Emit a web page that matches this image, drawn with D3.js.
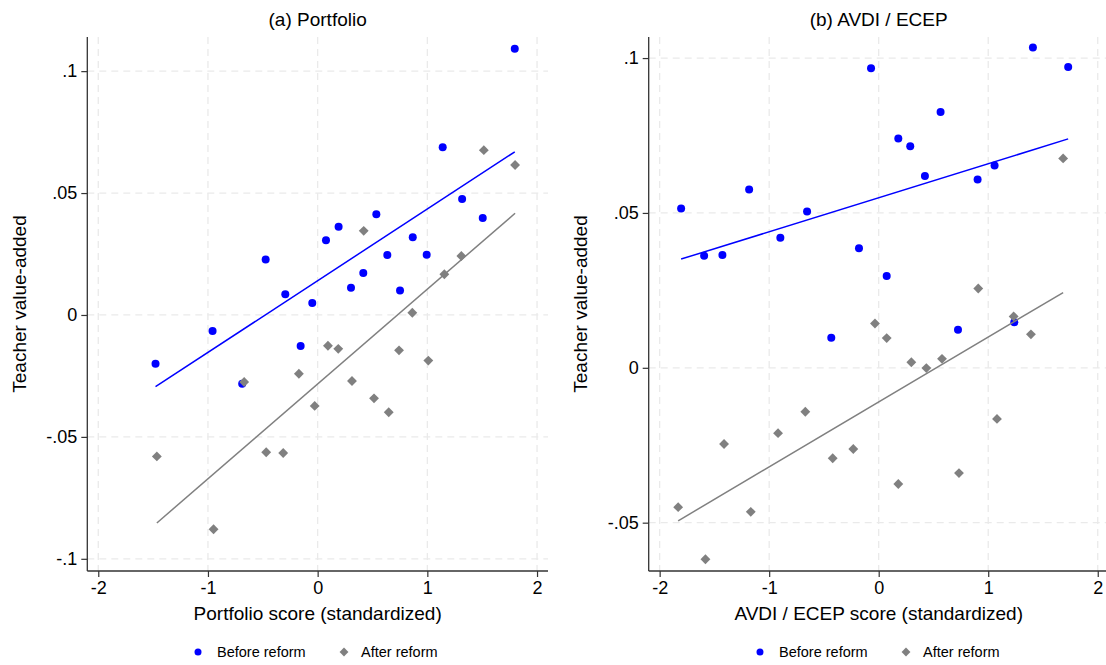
<!DOCTYPE html>
<html><head><meta charset="utf-8">
<script src="https://cdn.jsdelivr.net/npm/d3@7"></script>
<style>
html,body{margin:0;padding:0;background:#fff;}
text{font-family:"Liberation Sans",Arial,Helvetica,sans-serif;fill:#000;}
</style></head>
<body><svg id="c" width="1106" height="665"></svg>
<script>
// ---- data ----
const xTicks = [-2, -1, 0, 1, 2];
const xTickLabels = ["-2", "-1", "0", "1", "2"];
const yTicksA = [0.1, 0.05, 0, -0.05, -0.1];
const yTickLabelsA = [".1", ".05", "0", "-.05", "-.1"];
const yTicksB = [0.1, 0.05, 0, -0.05];
const yTickLabelsB = [".1", ".05", "0", "-.05"];
const seriesNames = ["Before reform", "After reform"];

const portfolioBeforeX = [-1.478,-0.958,-0.688,-0.474,-0.295,-0.155,-0.049,0.076,0.191,0.304,0.416,0.535,0.635,0.751,0.867,0.994,1.140,1.317,1.505,1.797];
const portfolioBeforeY = [-0.0200,-0.0066,-0.0282,0.0228,0.0085,-0.0127,0.0049,0.0306,0.0362,0.0112,0.0172,0.0413,0.0246,0.0100,0.0319,0.0247,0.0688,0.0476,0.0398,0.1092];
const portfolioAfterX = [-1.466,-0.949,-0.670,-0.469,-0.314,-0.171,-0.027,0.094,0.188,0.313,0.420,0.514,0.648,0.742,0.863,1.009,1.155,1.310,1.515,1.800];
const portfolioAfterY = [-0.0580,-0.0879,-0.0275,-0.0563,-0.0566,-0.0241,-0.0373,-0.0126,-0.0139,-0.0271,0.0345,-0.0342,-0.0399,-0.0145,0.0009,-0.0187,0.0167,0.0242,0.0676,0.0615];
const portfolioFitBeforeX = [-1.478, 1.797];
const portfolioFitBeforeY = [-0.0294, 0.0669];
const portfolioFitAfterX = [-1.466, 1.800];
const portfolioFitAfterY = [-0.0853, 0.0417];

const avdiBeforeX = [-1.804,-1.594,-1.427,-1.183,-0.898,-0.654,-0.433,-0.180,-0.070,0.073,0.179,0.288,0.422,0.565,0.724,0.903,1.058,1.238,1.408,1.730];
const avdiBeforeY = [0.0514,0.0362,0.0364,0.0576,0.0420,0.0505,0.0097,0.0386,0.0967,0.0296,0.0740,0.0715,0.0619,0.0826,0.0123,0.0608,0.0653,0.0147,0.1034,0.0971];
const avdiAfterX = [-1.831,-1.582,-1.412,-1.168,-0.919,-0.670,-0.420,-0.232,-0.034,0.073,0.179,0.298,0.435,0.578,0.733,0.909,1.080,1.232,1.390,1.684];
const avdiAfterY = [-0.0450,-0.0618,-0.0246,-0.0465,-0.0211,-0.0142,-0.0292,-0.0262,0.0143,0.0096,-0.0375,0.0018,-0.0001,0.0029,-0.0340,0.0256,-0.0165,0.0166,0.0108,0.0676];
const avdiFitBeforeX = [-1.804, 1.730];
const avdiFitBeforeY = [0.0351, 0.0739];
const avdiFitAfterX = [-1.831, 1.684];
const avdiFitAfterY = [-0.0494, 0.0243];

// ---- drawing ----
const svg = d3.select("#c");
const blue = "#0000ff", gray = "#808080";
const zip = (xs, ys) => xs.map((x, i) => ({x, y: ys[i]}));

function panel(cfg) {
  const x = d3.scaleLinear().domain([-2.1, 2.1]).range([cfg.left, cfg.right]);
  const y = d3.scaleLinear().domain(cfg.yDomain).range([cfg.bottom, cfg.top]);
  const g = svg.append("g");

  // grid
  g.append("g").selectAll("line").data(xTicks).join("line")
    .attr("x1", d => x(d)).attr("x2", d => x(d))
    .attr("y1", cfg.top).attr("y2", cfg.bottom)
    .attr("stroke", "#eaeaea").attr("stroke-width", 1.3).attr("stroke-dasharray", "7,5");
  g.append("g").selectAll("line").data(cfg.yTicks).join("line")
    .attr("x1", cfg.left).attr("x2", cfg.right)
    .attr("y1", d => y(d)).attr("y2", d => y(d))
    .attr("stroke", "#eaeaea").attr("stroke-width", 1.3).attr("stroke-dasharray", "7,5");

  // axes
  const xAxis = d3.axisBottom(x).tickValues(xTicks).tickSize(6).tickPadding(4)
    .tickFormat((d, i) => xTickLabels[i]);
  const gx = g.append("g").attr("transform", `translate(0,${cfg.bottom})`).call(xAxis);
  const yAxis = d3.axisLeft(y).tickValues(cfg.yTicks).tickSize(6).tickPadding(4)
    .tickFormat((d, i) => cfg.yLabels[i]);
  const gy = g.append("g").attr("transform", `translate(${cfg.left},0)`).call(yAxis);
  [gx, gy].forEach(a => {
    a.select(".domain").remove();
    a.selectAll(".tick line").attr("stroke", "#333").attr("stroke-width", 1.2);
    a.selectAll(".tick text").attr("font-size", 18).attr("fill", "#000")
      .style("font-family", '"Liberation Sans", Arial, sans-serif');
  });
  g.append("line").attr("x1", cfg.left).attr("x2", cfg.left).attr("y1", cfg.top).attr("y2", cfg.bottom)
    .attr("stroke", "#333").attr("stroke-width", 1.3);
  g.append("line").attr("x1", cfg.left).attr("x2", cfg.right).attr("y1", cfg.bottom).attr("y2", cfg.bottom)
    .attr("stroke", "#333").attr("stroke-width", 1.3);

  // points
  g.append("g").selectAll("circle").data(zip(cfg.bx, cfg.by)).join("circle")
    .attr("cx", d => x(d.x)).attr("cy", d => y(d.y)).attr("r", 4).attr("fill", blue);
  const diamond = d3.symbol().type(d3.symbolDiamond2).size(62);
  g.append("g").selectAll("path").data(zip(cfg.ax, cfg.ay)).join("path")
    .attr("d", diamond).attr("transform", d => `translate(${x(d.x)},${y(d.y)})`).attr("fill", gray);

  // fit lines
  const line = d3.line().x(d => x(d.x)).y(d => y(d.y));
  g.append("path").datum(zip(cfg.fbx, cfg.fby)).attr("d", line)
    .attr("stroke", blue).attr("stroke-width", 1.5).attr("fill", "none");
  g.append("path").datum(zip(cfg.fax, cfg.fay)).attr("d", line)
    .attr("stroke", gray).attr("stroke-width", 1.5).attr("fill", "none");

  const cx = (cfg.left + cfg.right) / 2;
  // titles
  g.append("text").attr("x", cx).attr("y", 26).attr("text-anchor", "middle")
    .attr("font-size", 19).text(cfg.title);
  g.append("text").attr("x", cx).attr("y", 620).attr("text-anchor", "middle")
    .attr("font-size", 19).text(cfg.xTitle);
  const cy = (cfg.top + cfg.bottom) / 2;
  g.append("text").attr("transform", `translate(${cfg.yTitleX},${cy}) rotate(-90)`)
    .attr("text-anchor", "middle").attr("font-size", 19).text("Teacher value-added");

  // legend
  const ly = 652;
  g.append("circle").attr("cx", cfg.legX).attr("cy", ly).attr("r", 3.5).attr("fill", blue);
  g.append("text").attr("x", cfg.legX + 19).attr("y", ly + 5).attr("font-size", 14.5).text(seriesNames[0]);
  g.append("path").attr("d", d3.symbol().type(d3.symbolDiamond2).size(50))
    .attr("transform", `translate(${cfg.legX + 146},${ly})`).attr("fill", gray);
  g.append("text").attr("x", cfg.legX + 163).attr("y", ly + 5).attr("font-size", 14.5).text(seriesNames[1]);
}

panel({
  left: 87.3, right: 548, top: 37, bottom: 571, yDomain: [-0.105, 0.114],
  yTicks: yTicksA, yLabels: yTickLabelsA,
  bx: portfolioBeforeX, by: portfolioBeforeY, ax: portfolioAfterX, ay: portfolioAfterY,
  fbx: portfolioFitBeforeX, fby: portfolioFitBeforeY, fax: portfolioFitAfterX, fay: portfolioFitAfterY,
  title: "(a) Portfolio", xTitle: "Portfolio score (standardized)", yTitleX: 26, legX: 198
});
panel({
  left: 648.7, right: 1108.7, top: 37, bottom: 571, yDomain: [-0.0656, 0.1068],
  yTicks: yTicksB, yLabels: yTickLabelsB,
  bx: avdiBeforeX, by: avdiBeforeY, ax: avdiAfterX, ay: avdiAfterY,
  fbx: avdiFitBeforeX, fby: avdiFitBeforeY, fax: avdiFitAfterX, fay: avdiFitAfterY,
  title: "(b) AVDI / ECEP", xTitle: "AVDI / ECEP score (standardized)", yTitleX: 587, legX: 760
});
</script></body></html>
